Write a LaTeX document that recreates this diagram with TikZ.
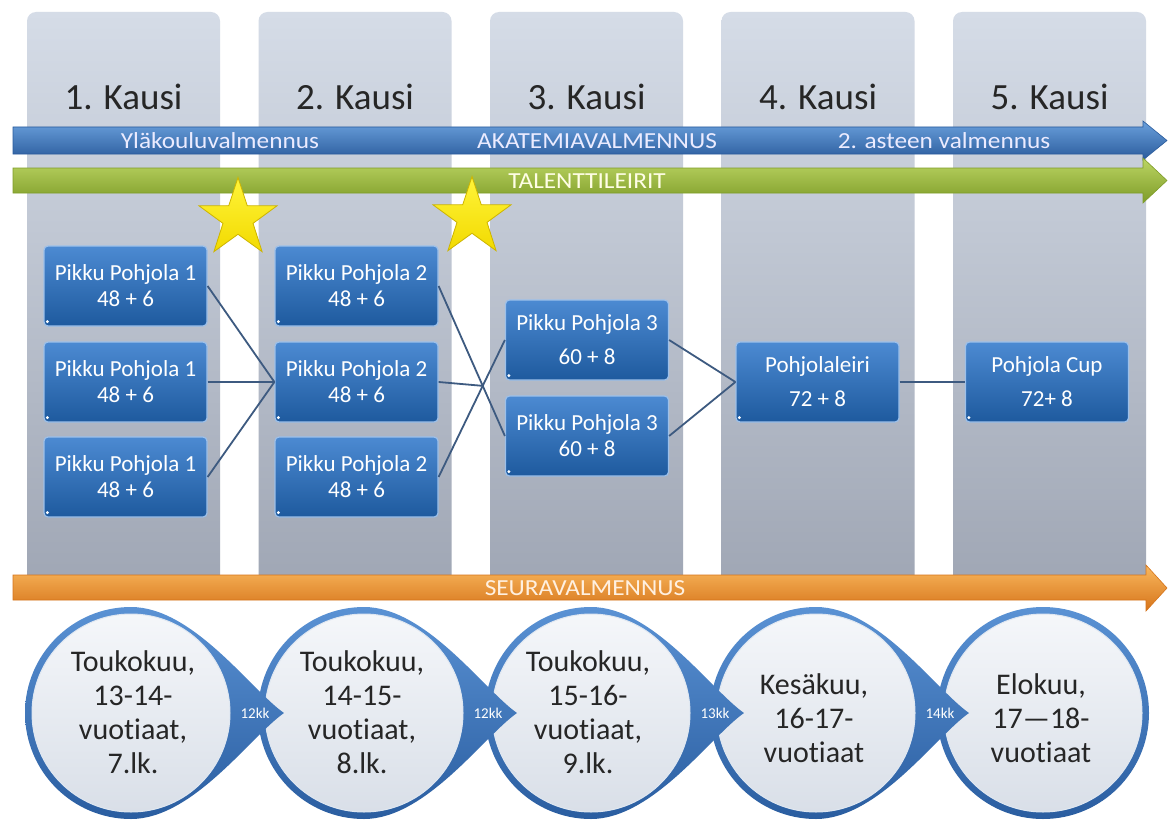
\documentclass[tikz,border=0pt]{standalone}
\usepackage{fontspec}
\setmainfont{Carlito}[Ligatures=NoCommon]
\newfontfamily\barfont{Carlito}[FakeStretch=1.1, Ligatures=NoCommon]
\usetikzlibrary{shapes.geometric}

\definecolor{colTop}{HTML}{D5DCE7}
\definecolor{colBot}{HTML}{9FA6B4}
\definecolor{boxTop}{HTML}{4C8AD2}
\definecolor{boxBot}{HTML}{1E5A9E}
\definecolor{boxEdge}{HTML}{9CC0EA}
\definecolor{linkCol}{HTML}{3D5A80}
\definecolor{starTop}{HTML}{FFF43A}
\definecolor{starBot}{HTML}{F2DA00}
\definecolor{starEdge}{HTML}{CDB400}
\definecolor{blueTop}{HTML}{6AA0DC}
\definecolor{blueMid}{HTML}{3E78C3}
\definecolor{blueBot}{HTML}{2A5B9C}
\definecolor{greenTop}{HTML}{BCD564}
\definecolor{greenMid}{HTML}{9DBC3C}
\definecolor{greenBot}{HTML}{7E9C28}
\definecolor{orTop}{HTML}{F9B85E}
\definecolor{orMid}{HTML}{F08E2C}
\definecolor{orBot}{HTML}{D6741A}
\definecolor{ringTop}{HTML}{5A92D4}
\definecolor{ringBot}{HTML}{2A5DA0}
\definecolor{ikaTop}{HTML}{F5F7FA}
\definecolor{ikaBot}{HTML}{D9DFE8}

\begin{document}
\begin{tikzpicture}[x=1pt, y=-1pt,
    column/.style={rounded corners=9pt, top color=colTop, bottom color=colBot},
    kausi/.style={font=\fontsize{37}{40}\selectfont, text=black!85},
    pohjola/.style={draw=boxEdge, line width=1.2pt, rounded corners=4pt, top color=boxTop, bottom color=boxBot,
      text=white, align=center, minimum width=163pt, minimum height=80pt, inner sep=2pt,
      font=\fontsize{23}{26}\selectfont},
    link/.style={draw=linkCol, line width=1.8pt},
    bartext/.style={font=\barfont\fontsize{23}{26}\selectfont},
    tahti/.style={star, star points=5, star point ratio=2.6, minimum size=82pt, inner sep=0pt,
      draw=starEdge, line width=0.8pt, top color=starTop, bottom color=starBot},
    ring/.style={top color=ringTop, bottom color=ringBot},
    ika/.style={align=center, font=\fontsize{30}{34}\selectfont, text=black!85},
    kk/.style={font=\fontsize{15}{17}\selectfont, text=white}
  ]
  \useasboundingbox (0,0) rectangle (1169,824);
  \fill[white] (0,0) rectangle (1169,824);

  \foreach \xl/\n in {27/1, 258.5/2, 490/3, 721.5/4, 953/5} {
    \shade[column] (\xl,12) rectangle ++(193,578);
    \node[kausi] (k\n) at (\xl+96.5,97) {\n. Kausi};
  }

  \shade[draw=blueBot, line width=0.6pt, top color=blueTop, middle color=blueMid, bottom color=blueBot]
    (13,127) -- (1143,127) -- (1143,121) -- (1167,140.5) -- (1143,160) -- (1143,154) -- (13,154) -- cycle;
  \shade[draw=greenBot, line width=0.6pt, top color=greenTop, middle color=greenMid, bottom color=greenBot]
    (13,168) -- (1143,168) -- (1143,158) -- (1167,180.5) -- (1143,203) -- (1143,193) -- (13,193) -- cycle;
  \node[bartext, text=blue!8] (ylakoulu) at (220,141) {Yläkouluvalmennus};
  \node[bartext, text=blue!8] (akatemia) at (597,141) {AKATEMIAVALMENNUS};
  \node[bartext, text=blue!8] (aste) at (944,141) {2. asteen valmennus};
  \node[bartext, text=yellow!10] (talentti) at (587,181) {TALENTTILEIRIT};

  \node[tahti] (tahti1) at (238,218.5) {};
  \node[tahti] (tahti2) at (472,217.5) {};

  \node[pohjola] (pp1a) at (125.5,286) {Pikku Pohjola 1\\48 + 6};
  \node[pohjola] (pp1b) at (125.5,382) {Pikku Pohjola 1\\48 + 6};
  \node[pohjola] (pp1c) at (125.5,477) {Pikku Pohjola 1\\48 + 6};
  \node[pohjola] (pp2a) at (356.5,286) {Pikku Pohjola 2\\48 + 6};
  \node[pohjola] (pp2b) at (356.5,382) {Pikku Pohjola 2\\48 + 6};
  \node[pohjola] (pp2c) at (356.5,477) {Pikku Pohjola 2\\48 + 6};
  \node[pohjola] (pp3a) at (587,340) {Pikku Pohjola 3\\[8pt]60 + 8};
  \node[pohjola] (pp3b) at (587,436) {Pikku Pohjola 3\\60 + 8};
  \node[pohjola] (leiri) at (817.5,382) {Pohjolaleiri\\[8pt]72 + 8};
  \node[pohjola] (cup) at (1047,382) {Pohjola Cup\\[8pt]72+ 8};
  \foreach \b in {pp1a,pp1b,pp1c,pp2a,pp2b,pp2c,pp3a,pp3b,leiri,cup}
    \fill[white] ([shift={(4,-5)}]\b.south west) circle (1.6pt);

  \draw[link] (pp1a.east) -- (pp2b.west);
  \draw[link] (pp1b.east) -- (pp2b.west);
  \draw[link] (pp1c.east) -- (pp2b.west);
  \draw[link] (pp2a.east) -- (pp3b.west);
  \draw[link] (pp2c.east) -- (pp3a.west);
  \coordinate (risti) at (intersection of pp2a.east--pp3b.west and pp2c.east--pp3a.west);
  \draw[link] (pp2b.east) -- (risti);
  \draw[link] (pp3a.east) -- (leiri.west);
  \draw[link] (pp3b.east) -- (leiri.west);
  \draw[link] (leiri.east) -- (cup.west);

  \shade[draw=orBot, line width=0.6pt, top color=orTop, middle color=orMid, bottom color=orBot]
    (13,575) -- (1146,575) -- (1146,565) -- (1167,588) -- (1146,611) -- (1146,600) -- (13,600) -- cycle;
  \node[bartext, text=orange!12] (seura) at (585,588) {SEURAVALMENNUS};

  \shade[ring] (1043,713) circle (106pt);
  \shade[draw=white!85!ringBot, line width=1pt, top color=ikaTop, bottom color=ikaBot] (1043,713) circle (99pt);
  \foreach \cx/\n/\kk in {816/4/14kk, 591/3/13kk, 364/2/12kk, 131/1/12kk} {
    \shade[ring] (\cx,607) .. controls (\cx+62,607) and (\cx+120,690) .. (\cx+153,713)
      .. controls (\cx+120,736) and (\cx+62,819) .. (\cx,819)
      .. controls (\cx-58.5,819) and (\cx-106,771.5) .. (\cx-106,713)
      .. controls (\cx-106,654.5) and (\cx-58.5,607) .. cycle;
    \shade[draw=white!85!ringBot, line width=1pt, top color=ikaTop, bottom color=ikaBot] (\cx,713) circle (99pt);
    \node[kk] (kk\n) at (\cx+124,713) {\kk};
  }

  \node[ika] (ika1) at (133,712) {Toukokuu,\\13-14-\\vuotiaat,\\7.lk.};
  \node[ika] (ika2) at (362,712) {Toukokuu,\\14-15-\\vuotiaat,\\8.lk.};
  \node[ika] (ika3) at (588,712) {Toukokuu,\\15-16-\\vuotiaat,\\9.lk.};
  \node[ika] (ika4) at (814,718) {Kesäkuu,\\16-17-\\vuotiaat};
  \node[ika] (ika5) at (1041,718) {Elokuu,\\17—18-\\vuotiaat};
\end{tikzpicture}
\end{document}
